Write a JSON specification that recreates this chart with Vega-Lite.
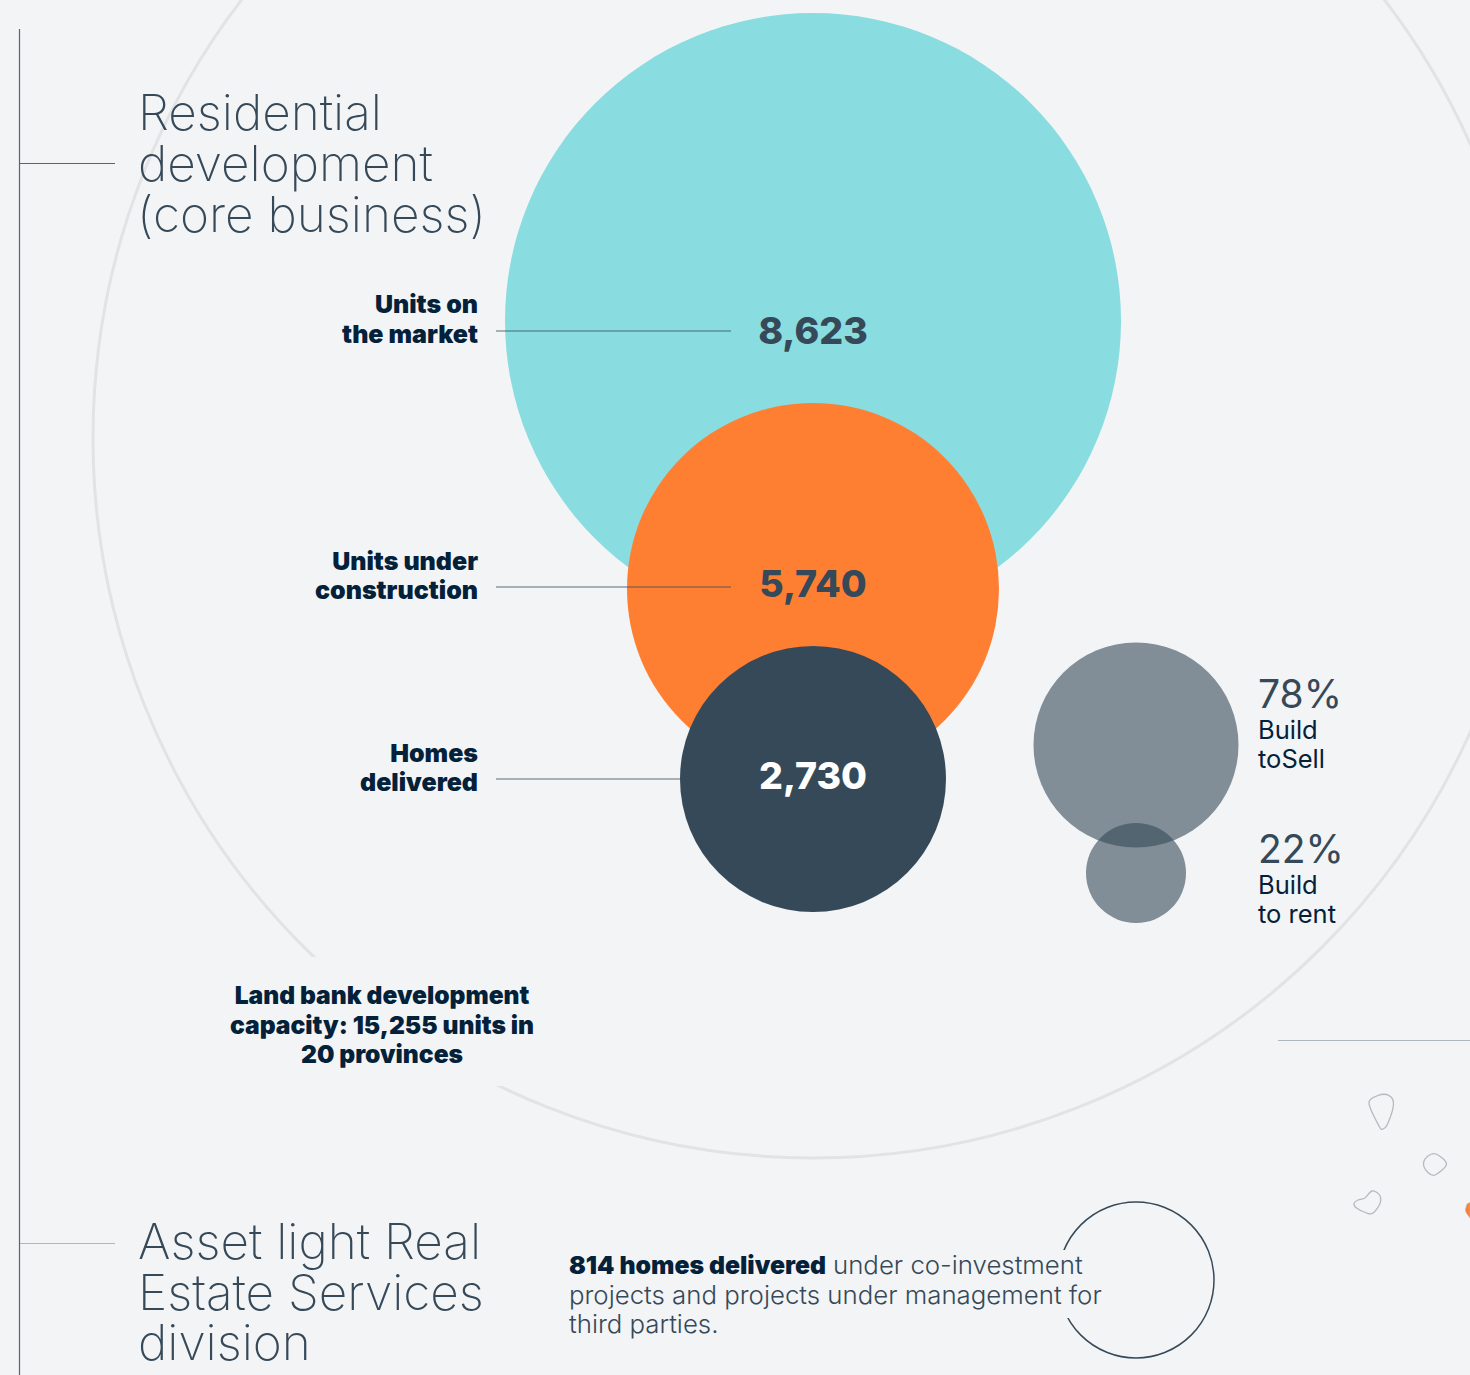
{
  "$schema": "https://vega.github.io/schema/vega-lite/v6.json",
  "width": 1470,
  "height": 1375,
  "autosize": {"type": "fit", "contains": "padding"},
  "padding": 0,
  "background": "#F3F4F6",
  "config": {"view": {"stroke": null}, "text": {"font": "Inter"}},
  "datasets": {
    "bubbles": [
      {"item": "Units on the market", "value": 8623, "cx": 813, "cy": 321},
      {"item": "Units under construction", "value": 5740, "cx": 813, "cy": 589},
      {"item": "Homes delivered", "value": 2730, "cx": 813, "cy": 779}
    ],
    "split": [
      {"item": "Build to Sell", "value": 78, "cx": 1136, "cy": 745},
      {"item": "Build to rent", "value": 22, "cx": 1136, "cy": 873}
    ],
    "landBank": [{"item": "Land bank development capacity", "value": 15255, "cx": 813, "cy": 438}],
    "assetLight": [{"item": "Asset light homes delivered", "value": 814, "cx": 1136, "cy": 1280}],
    "gaps": [
      {"x0": 200, "x1": 560, "y0": 957, "y1": 1086},
      {"x0": 1050, "x1": 1090, "y0": 1250, "y1": 1318}
    ],
    "leaders": [
      {"x0": 496, "x1": 731, "yy": 331},
      {"x0": 496, "x1": 731, "yy": 587},
      {"x0": 496, "x1": 680, "yy": 779}
    ],
    "frame": [
      {"x0": 19.5, "x1": 19.5, "y0": 29, "y1": 1375},
      {"x0": 20, "x1": 115, "y0": 163.5, "y1": 163.5}
    ],
    "frameSoft": [
      {"x0": 20, "x1": 115, "y0": 1243.5, "y1": 1243.5},
      {"x0": 1278, "x1": 1470, "y0": 1040.5, "y1": 1040.5}
    ],
    "islands": [
      {"island": "a", "i": 0, "px": 1369, "py": 1103},
      {"island": "a", "i": 1, "px": 1378, "py": 1095.5},
      {"island": "a", "i": 2, "px": 1389, "py": 1095.5},
      {"island": "a", "i": 3, "px": 1393.5, "py": 1104},
      {"island": "a", "i": 4, "px": 1388, "py": 1123},
      {"island": "a", "i": 5, "px": 1383, "py": 1129},
      {"island": "a", "i": 6, "px": 1379, "py": 1126},
      {"island": "b", "i": 0, "px": 1423.5, "py": 1164},
      {"island": "b", "i": 1, "px": 1428, "py": 1156},
      {"island": "b", "i": 2, "px": 1436, "py": 1154},
      {"island": "b", "i": 3, "px": 1446.5, "py": 1164},
      {"island": "b", "i": 4, "px": 1435, "py": 1175},
      {"island": "b", "i": 5, "px": 1428, "py": 1172.5},
      {"island": "c", "i": 0, "px": 1354, "py": 1203.5},
      {"island": "c", "i": 1, "px": 1358, "py": 1200},
      {"island": "c", "i": 2, "px": 1365, "py": 1198},
      {"island": "c", "i": 3, "px": 1372, "py": 1191},
      {"island": "c", "i": 4, "px": 1379.5, "py": 1195},
      {"island": "c", "i": 5, "px": 1380, "py": 1203.5},
      {"island": "c", "i": 6, "px": 1373, "py": 1213},
      {"island": "c", "i": 7, "px": 1366.5, "py": 1213},
      {"island": "c", "i": 8, "px": 1356.5, "py": 1208}
    ],
    "headings": [
      {"t": "Residential", "px": 138, "py": 130},
      {"t": "development", "px": 138, "py": 181},
      {"t": "(core business)", "px": 137, "py": 232},
      {"t": "Asset light Real", "px": 138, "py": 1259},
      {"t": "Estate Services", "px": 138, "py": 1310},
      {"t": "division", "px": 138, "py": 1360}
    ],
    "bubbleLabels": [
      {"t": "Units on", "px": 478, "py": 313},
      {"t": "the market", "px": 478, "py": 343},
      {"t": "Units under", "px": 478, "py": 570},
      {"t": "construction", "px": 478, "py": 599},
      {"t": "Homes", "px": 478, "py": 762},
      {"t": "delivered", "px": 478, "py": 791}
    ],
    "landBankText": [
      {"t": "Land bank development", "px": 382, "py": 1004},
      {"t": "capacity: 15,255 units in", "px": 382, "py": 1034},
      {"t": "20 provinces", "px": 382, "py": 1063}
    ],
    "valueLabels": [
      {"t": "8,623", "px": 813, "py": 344},
      {"t": "5,740", "px": 813, "py": 597}
    ],
    "valueLabelsLight": [{"t": "2,730", "px": 813, "py": 789}],
    "percents": [
      {"t": "78%", "px": 1258, "py": 708},
      {"t": "22%", "px": 1258, "py": 863}
    ],
    "percentNames": [
      {"t": "Build", "px": 1258, "py": 739},
      {"t": "toSell", "px": 1258, "py": 768},
      {"t": "Build", "px": 1258, "py": 894},
      {"t": "to rent", "px": 1258, "py": 923}
    ],
    "noteBold": [{"t": "814 homes delivered", "px": 569, "py": 1274}],
    "noteLight": [
      {"t": "under co-investment", "px": 833, "py": 1274},
      {"t": "projects and projects under management for", "px": 569, "py": 1304},
      {"t": "third parties.", "px": 569, "py": 1333}
    ],
    "territory": [
      {"px": 1465.5, "top": 1209, "bottom": 1211},
      {"px": 1467, "top": 1204, "bottom": 1214},
      {"px": 1470, "top": 1202.5, "bottom": 1218}
    ]
  },
  "layer": [
    {
      "data": {"name": "landBank"},
      "mark": {"type": "point", "filled": false, "clip": true, "stroke": "#E1E3E5", "strokeWidth": 3, "opacity": 1},
      "encoding": {
        "x": {"field": "cx", "type": "quantitative", "axis": null, "scale": {"domain": [0, 1470], "nice": false, "zero": false}},
        "y": {"field": "cy", "type": "quantitative", "axis": null, "scale": {"domain": [1375, 0], "nice": false, "zero": false}},
        "size": {"field": "value", "type": "quantitative", "legend": null, "scale": {"type": "linear", "zero": false, "domain": [22, 78, 814, 2730, 5740, 8623, 15255], "range": [10000, 42025, 24336, 70756, 138384, 379456, 2073600]}}
      }
    },
    {
      "data": {"name": "assetLight"},
      "mark": {"type": "point", "filled": false, "clip": true, "stroke": "#364958", "strokeWidth": 1.5, "opacity": 1},
      "encoding": {
        "x": {"field": "cx", "type": "quantitative"},
        "y": {"field": "cy", "type": "quantitative"},
        "size": {"field": "value", "type": "quantitative"}
      }
    },
    {
      "data": {"name": "gaps"},
      "mark": {"type": "rect", "fill": "#F3F4F6", "clip": true},
      "encoding": {
        "x": {"field": "x0", "type": "quantitative"},
        "x2": {"field": "x1"},
        "y": {"field": "y0", "type": "quantitative"},
        "y2": {"field": "y1"}
      }
    },
    {
      "data": {"name": "bubbles"},
      "mark": {"type": "point", "filled": true, "opacity": 1, "clip": true},
      "encoding": {
        "x": {"field": "cx", "type": "quantitative"},
        "y": {"field": "cy", "type": "quantitative"},
        "size": {"field": "value", "type": "quantitative"},
        "order": {"field": "value", "sort": "descending"},
        "color": {"field": "item", "type": "nominal", "legend": null, "scale": {"domain": ["Units on the market", "Units under construction", "Homes delivered"], "range": ["#89DCDF", "#FF7F32", "#364958"]}}
      }
    },
    {
      "data": {"name": "split"},
      "mark": {"type": "point", "filled": true, "fill": "#364958", "opacity": 0.6, "clip": true},
      "encoding": {
        "x": {"field": "cx", "type": "quantitative"},
        "y": {"field": "cy", "type": "quantitative"},
        "size": {"field": "value", "type": "quantitative"}
      }
    },
    {
      "data": {"name": "leaders"},
      "mark": {"type": "rule", "stroke": "#364958", "strokeWidth": 1, "opacity": 0.8, "clip": true},
      "encoding": {
        "x": {"field": "x0", "type": "quantitative"},
        "x2": {"field": "x1"},
        "y": {"field": "yy", "type": "quantitative"}
      }
    },
    {
      "data": {"name": "frame"},
      "mark": {"type": "rule", "stroke": "#56666F", "strokeWidth": 1.2, "clip": true},
      "encoding": {
        "x": {"field": "x0", "type": "quantitative"},
        "x2": {"field": "x1"},
        "y": {"field": "y0", "type": "quantitative"},
        "y2": {"field": "y1"}
      }
    },
    {
      "data": {"name": "frameSoft"},
      "mark": {"type": "rule", "stroke": "#AEB7BD", "strokeWidth": 1, "clip": true},
      "encoding": {
        "x": {"field": "x0", "type": "quantitative"},
        "x2": {"field": "x1"},
        "y": {"field": "y0", "type": "quantitative"},
        "y2": {"field": "y1"}
      }
    },
    {
      "data": {"name": "islands"},
      "mark": {"type": "line", "interpolate": "cardinal-closed", "stroke": "#B4BABE", "strokeWidth": 1.3, "clip": true},
      "encoding": {
        "x": {"field": "px", "type": "quantitative"},
        "y": {"field": "py", "type": "quantitative"},
        "detail": {"field": "island"},
        "order": {"field": "i"}
      }
    },
    {
      "data": {"name": "territory"},
      "mark": {"type": "area", "fill": "#FF7F32", "stroke": "#B4BABE", "strokeWidth": 0.6, "clip": true},
      "encoding": {
        "x": {"field": "px", "type": "quantitative"},
        "y": {"field": "top", "type": "quantitative"},
        "y2": {"field": "bottom"}
      }
    },
    {
      "data": {"name": "headings"},
      "mark": {"type": "text", "font": "Inter", "fontWeight": 150, "fontSize": 49.5, "align": "left", "baseline": "alphabetic", "fill": "#364958", "clip": true},
      "encoding": {
        "x": {"field": "px", "type": "quantitative"},
        "y": {"field": "py", "type": "quantitative"},
        "text": {"field": "t"}
      }
    },
    {
      "data": {"name": "bubbleLabels"},
      "mark": {"type": "text", "font": "Inter", "fontWeight": 900, "fontSize": 25, "align": "right", "baseline": "alphabetic", "fill": "#04213A", "clip": true},
      "encoding": {
        "x": {"field": "px", "type": "quantitative"},
        "y": {"field": "py", "type": "quantitative"},
        "text": {"field": "t"}
      }
    },
    {
      "data": {"name": "landBankText"},
      "mark": {"type": "text", "font": "Inter", "fontWeight": 900, "fontSize": 24.6, "align": "center", "baseline": "alphabetic", "fill": "#04213A", "clip": true},
      "encoding": {
        "x": {"field": "px", "type": "quantitative"},
        "y": {"field": "py", "type": "quantitative"},
        "text": {"field": "t"}
      }
    },
    {
      "data": {"name": "valueLabels"},
      "mark": {"type": "text", "font": "Inter", "fontWeight": 800, "fontSize": 37.5, "align": "center", "baseline": "alphabetic", "fill": "#364958", "clip": true},
      "encoding": {
        "x": {"field": "px", "type": "quantitative"},
        "y": {"field": "py", "type": "quantitative"},
        "text": {"field": "t"}
      }
    },
    {
      "data": {"name": "valueLabelsLight"},
      "mark": {"type": "text", "font": "Inter", "fontWeight": 800, "fontSize": 37.5, "align": "center", "baseline": "alphabetic", "fill": "#FFFFFF", "clip": true},
      "encoding": {
        "x": {"field": "px", "type": "quantitative"},
        "y": {"field": "py", "type": "quantitative"},
        "text": {"field": "t"}
      }
    },
    {
      "data": {"name": "percents"},
      "mark": {"type": "text", "font": "Inter", "fontWeight": 400, "fontSize": 39, "align": "left", "baseline": "alphabetic", "fill": "#364958", "clip": true},
      "encoding": {
        "x": {"field": "px", "type": "quantitative"},
        "y": {"field": "py", "type": "quantitative"},
        "text": {"field": "t"}
      }
    },
    {
      "data": {"name": "percentNames"},
      "mark": {"type": "text", "font": "Inter", "fontWeight": 400, "fontSize": 25.5, "align": "left", "baseline": "alphabetic", "fill": "#04213A", "clip": true},
      "encoding": {
        "x": {"field": "px", "type": "quantitative"},
        "y": {"field": "py", "type": "quantitative"},
        "text": {"field": "t"}
      }
    },
    {
      "data": {"name": "noteBold"},
      "mark": {"type": "text", "font": "Inter", "fontWeight": 900, "fontSize": 24.8, "align": "left", "baseline": "alphabetic", "fill": "#04213A", "clip": true},
      "encoding": {
        "x": {"field": "px", "type": "quantitative"},
        "y": {"field": "py", "type": "quantitative"},
        "text": {"field": "t"}
      }
    },
    {
      "data": {"name": "noteLight"},
      "mark": {"type": "text", "font": "Inter", "fontWeight": 300, "fontSize": 25.8, "align": "left", "baseline": "alphabetic", "fill": "#364958", "clip": true},
      "encoding": {
        "x": {"field": "px", "type": "quantitative"},
        "y": {"field": "py", "type": "quantitative"},
        "text": {"field": "t"}
      }
    }
  ]
}
